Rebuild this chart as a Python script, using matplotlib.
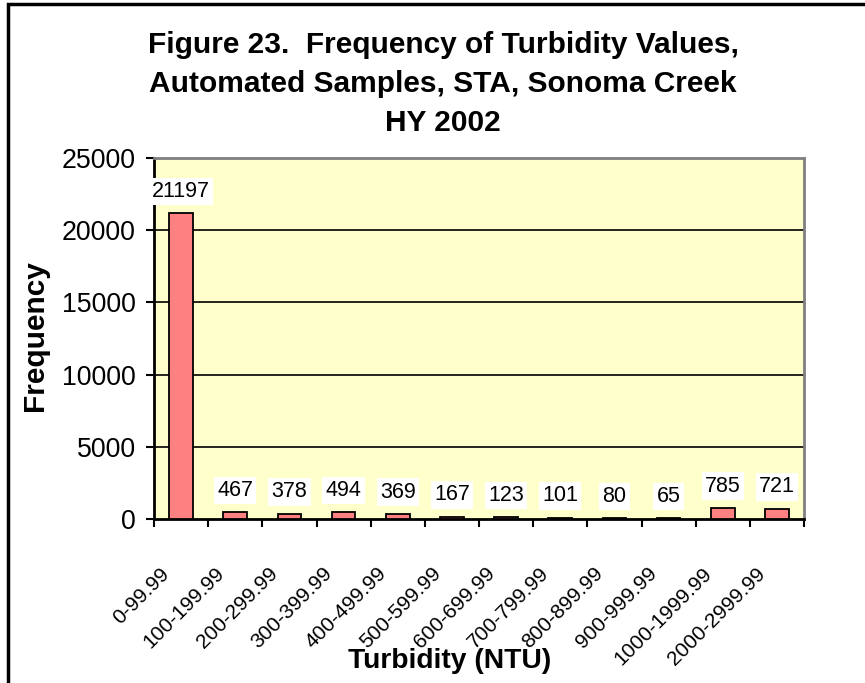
import matplotlib
matplotlib.use("Agg")
import matplotlib.pyplot as plt
import numpy as np
from matplotlib.patches import Rectangle
from matplotlib.transforms import ScaledTranslation

categories = ["0-99.99", "100-199.99", "200-299.99", "300-399.99", "400-499.99",
              "500-599.99", "600-699.99", "700-799.99", "800-899.99", "900-999.99",
              "1000-1999.99", "2000-2999.99"]
counts = [21197, 467, 378, 494, 369, 167, 123, 101, 80, 65, 785, 721]
yticks = [0, 5000, 10000, 15000, 20000, 25000]

plt.rcParams['font.family'] = ['Liberation Sans', 'DejaVu Sans']

fig = plt.figure(figsize=(8.65, 6.83), dpi=100)
# outer chart border (right/bottom edges run off the picture)
fig.patches.append(Rectangle((8 / 865, -0.1), 1.2, 1 - 4 / 683 + 0.1, transform=fig.transFigure,
                             fill=False, edgecolor="black", linewidth=2.5))

ax = fig.add_axes([154 / 865, 1 - 519 / 683, 650 / 865, 361 / 683])
ax.set_facecolor("#ffffcc")

x = np.arange(len(categories))
ax.bar(x, counts, width=0.44, color="#ff8080", edgecolor="black", linewidth=1.3, zorder=3)
ax.set_xlim(-0.5, len(categories) - 0.5)
ax.set_ylim(0, 25000)
ax.set_yticks(yticks)
ax.set_yticklabels([str(v) for v in yticks], fontsize=19.3)
ax.tick_params(axis="y", direction="out", length=6, width=1.5, pad=7)

# excel style: ticks between categories, labels at category centres
ax.set_xticks(np.arange(len(categories) + 1) - 0.5)
ax.set_xticklabels([])
ax.tick_params(axis="x", direction="out", length=6, width=1.5)
ax.set_xticks(x, minor=True)
ax.set_xticklabels(categories, minor=True, rotation=45, ha="right", va="top",
                   rotation_mode="anchor", fontsize=15)
ax.tick_params(axis="x", which="minor", length=0, pad=0)
shift = ScaledTranslation(-21 / 100, -45 / 100, fig.dpi_scale_trans)
for lab in ax.get_xticklabels(minor=True):
    lab.set_transform(lab.get_transform() + shift)

for v in yticks[1:-1]:
    ax.axhline(v, color="black", linewidth=1.2, zorder=1)

for s in ["left", "bottom"]:
    ax.spines[s].set_linewidth(2)
    ax.spines[s].set_color("black")
for s in ["top", "right"]:
    ax.spines[s].set_linewidth(2)
    ax.spines[s].set_color("#808080")

for xi, c in zip(x, counts):
    ax.annotate(str(c), (xi, c), xytext=(0, 8), textcoords="offset points",
                ha="center", va="bottom", fontsize=15.5, zorder=5,
                bbox=dict(boxstyle="square,pad=0.15", facecolor="white", edgecolor="none"))

fig.text(35 / 865, 1 - 336 / 683, "Frequency", rotation=90, ha="center", va="center",
         fontsize=21.5, fontweight="bold")
fig.text(450 / 865, 1 - 661 / 683, "Turbidity (NTU)", ha="center", va="center",
         fontsize=20.3, fontweight="bold")

fig.text(443 / 865, 1 - 84 / 683,
         "Figure 23.  Frequency of Turbidity Values,\nAutomated Samples, STA, Sonoma Creek\nHY 2002",
         ha="center", va="center", fontsize=21.5, fontweight="bold", linespacing=1.5)

fig.savefig("out.png", dpi=100)
